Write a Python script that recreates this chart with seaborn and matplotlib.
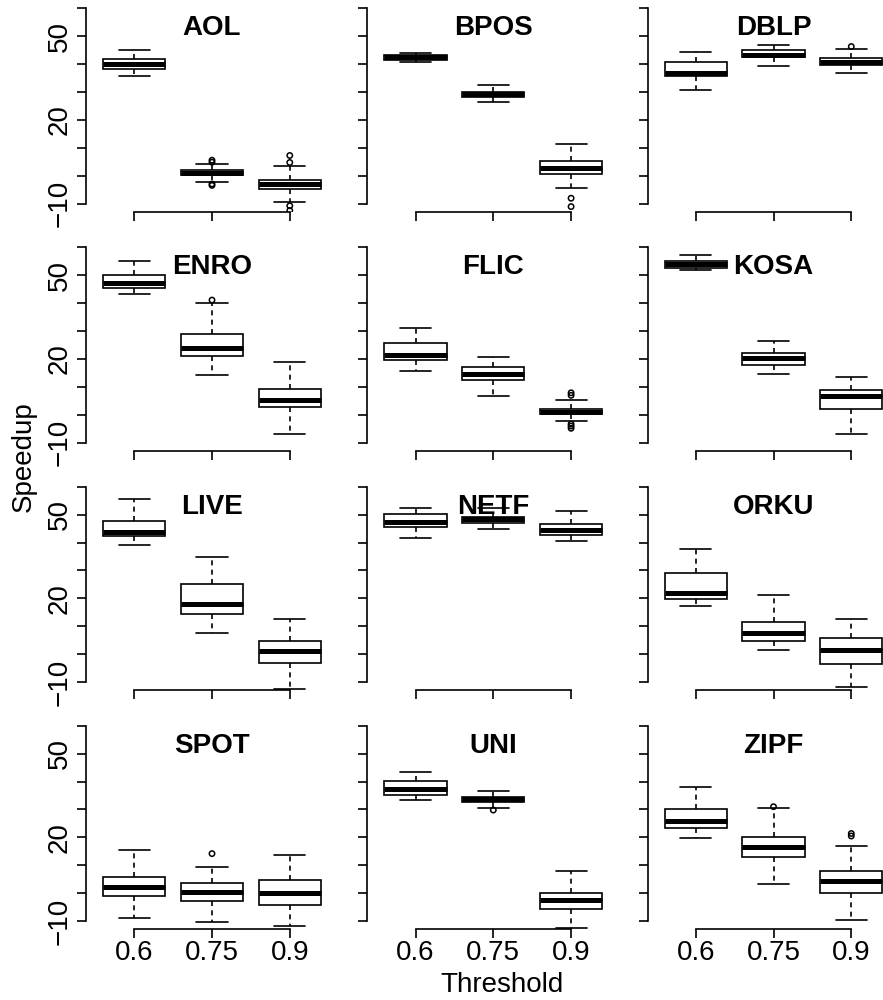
import numpy as np
import pandas as pd
import matplotlib
matplotlib.use("Agg")
import matplotlib.pyplot as plt
import seaborn as sns

# ---------------- data ----------------
datasets = ["AOL", "BPOS", "DBLP", "ENRO", "FLIC", "KOSA",
            "LIVE", "NETF", "ORKU", "SPOT", "UNI", "ZIPF"]
thresholds = ["0.6", "0.75", "0.9"]

whisker_low = [
    [35.8, -2.2, -9.2],    # AOL
    [40.6, 26.3, -4.4],    # BPOS
    [30.8, 39.4, 37.0],    # DBLP
    [43.1, 14.2, -6.8],    # ENRO
    [15.7, 6.8, -2.2],     # FLIC
    [51.9, 14.8, -7.0],    # KOSA
    [39.3, 7.6, -12.6],    # LIVE
    [41.7, 44.8, 40.7],    # NETF
    [17.3, 1.7, -11.8],    # ORKU
    [-9.0, -10.2, -11.6],  # SPOT
    [33.4, 30.6, -12.6],   # UNI
    [19.9, 3.5, -9.6],     # ZIPF
]
quartile_1 = [
    [38.3, 0.3, -4.8],
    [41.5, 28.2, 0.5],
    [35.8, 42.5, 39.7],
    [45.5, 21.0, 2.8],
    [19.6, 12.6, 0.2],
    [52.7, 18.0, 2.2],
    [42.3, 14.5, -3.2],
    [45.6, 47.1, 42.6],
    [19.9, 4.9, -3.6],
    [-0.9, -2.8, -4.3],
    [35.2, 32.6, -5.5],
    [23.2, 12.9, 0.2],
]
medians = [
    [40.0, 1.2, -3.0],
    [42.5, 29.2, 3.0],
    [37.0, 43.3, 40.9],
    [47.3, 24.1, 5.4],
    [21.5, 14.8, 1.1],
    [54.0, 20.4, 6.6],
    [43.8, 18.1, 1.0],
    [47.3, 48.4, 44.6],
    [21.9, 7.7, 1.4],
    [2.1, 0.6, 0.2],
    [37.3, 33.6, -2.5],
    [26.0, 16.4, 4.3],
]
quartile_3 = [
    [41.9, 2.2, -1.4],
    [43.1, 30.2, 5.4],
    [40.6, 44.9, 42.1],
    [50.1, 28.8, 9.4],
    [25.8, 17.2, 2.0],
    [55.2, 22.2, 8.8],
    [47.8, 25.1, 4.9],
    [50.2, 49.2, 46.6],
    [29.1, 11.5, 5.9],
    [5.9, 3.6, 4.7],
    [40.3, 34.4, 0.2],
    [30.0, 20.2, 7.9],
]
whisker_high = [
    [45.1, 4.3, 3.7],
    [43.9, 32.6, 11.3],
    [44.5, 46.9, 45.3],
    [55.2, 39.9, 19.0],
    [31.2, 20.8, 5.2],
    [57.2, 26.4, 13.6],
    [55.5, 34.8, 12.7],
    [52.5, 52.2, 51.3],
    [37.6, 21.3, 12.5],
    [15.4, 9.5, 13.6],
    [43.3, 36.7, 8.0],
    [38.1, 30.4, 16.9],
]
outliers = [
    [[], [5.6, 4.9, -2.9, -3.4], [7.3, 4.8, -10.7, -12.4]],
    [[], [], [-8.0, -11.0]],
    [[], [], [46.3]],
    [[], [41.1], []],
    [[], [], [7.9, 7.0, -3.3, -4.0, -4.8]],
    [[], [], []],
    [[], [], []],
    [[], [], []],
    [[], [], []],
    [[], [14.2], []],
    [[], [29.8], []],
    [[], [31.0], [21.4, 20.5]],
]

y_ticks = [-10, 0, 10, 20, 30, 40, 50, 60]
y_ticklabels = ["\u221210", "", "", "20", "", "", "50", ""]

# ---------------- style ----------------
sns.set_style("ticks")
plt.rcParams["font.family"] = ["Liberation Sans", "DejaVu Sans"]
plt.rcParams.update({
    "axes.linewidth": 1.2,
    "axes.edgecolor": "black",
    "text.color": "black",
    "axes.labelcolor": "black",
    "xtick.color": "black",
    "ytick.color": "black",
})

W, H = 883, 1000
fig = plt.figure(figsize=(W / 100, H / 100), dpi=100)

col_left_px = [86, 367.3, 647.5]
row_top_px = [0.3, 239.3, 478.7, 717.7]
ax_w_px, ax_h_px = 252.0, 211.5

for i, name in enumerate(datasets):
    r, c = divmod(i, 3)
    left = col_left_px[c] / W
    bottom = 1 - (row_top_px[r] + ax_h_px) / H
    ax = fig.add_axes([left, bottom, ax_w_px / W, ax_h_px / H])

    rows = []
    for j, t in enumerate(thresholds):
        for v in (whisker_low[i][j], quartile_1[i][j], medians[i][j],
                  quartile_3[i][j], whisker_high[i][j]):
            rows.append({"Threshold": t, "Speedup": v})
    df = pd.DataFrame(rows)

    sns.boxplot(data=df, x="Threshold", y="Speedup", order=thresholds,
                whis=(0, 100), width=0.8, color="white", saturation=1,
                linecolor="black", linewidth=1.2, fill=True, showfliers=False,
                medianprops=dict(linewidth=3.6),
                whiskerprops=dict(linestyle=(0, (3.0, 2.6))),
                ax=ax)

    ox, oy = [], []
    for j, t in enumerate(thresholds):
        for v in outliers[i][j]:
            ox.append(thresholds.index(t))
            oy.append(v)
    if ox:
        sns.scatterplot(x=ox, y=oy, marker="o", color="black",
                        facecolors="none", edgecolor="black", s=15,
                        linewidth=1.1, legend=False, ax=ax, zorder=4)

    ax.set_xlim(-0.62, 2.62)
    ax.set_ylim(-12.86, 62.86)
    sns.despine(ax=ax)
    ax.spines["left"].set_bounds(-10, 60)
    ax.spines["bottom"].set_bounds(0, 2)
    ax.set_yticks(y_ticks)
    ax.set_xticks([0, 1, 2])
    ax.set_xlabel("")
    ax.set_ylabel("")
    ax.tick_params(axis="both", length=6.5, width=1.2, labelsize=20,
                   colors="black")
    ax.tick_params(axis="x", pad=1)
    ax.tick_params(axis="y", pad=3)
    if c == 0:
        ax.set_yticklabels(y_ticklabels, rotation=90, va="center")
    else:
        ax.set_yticklabels([])
    if r == 3:
        ax.set_xticklabels(thresholds)
    else:
        ax.set_xticklabels([])
    ax.grid(False)
    ax.patch.set_alpha(0)
    ax.text(0.5, 1 - 35 / ax_h_px, name, transform=ax.transAxes,
            ha="center", va="baseline", fontsize=20, fontweight="bold",
            color="black", zorder=5)

fig.text(24 / W, 1 - 457 / H, "Speedup", rotation=90, ha="center",
         va="center", fontsize=20, color="black")
fig.text(502 / W, 1 - 992 / H, "Threshold", ha="center", va="baseline",
         fontsize=20, color="black")

fig.savefig("out.png", dpi=100)
